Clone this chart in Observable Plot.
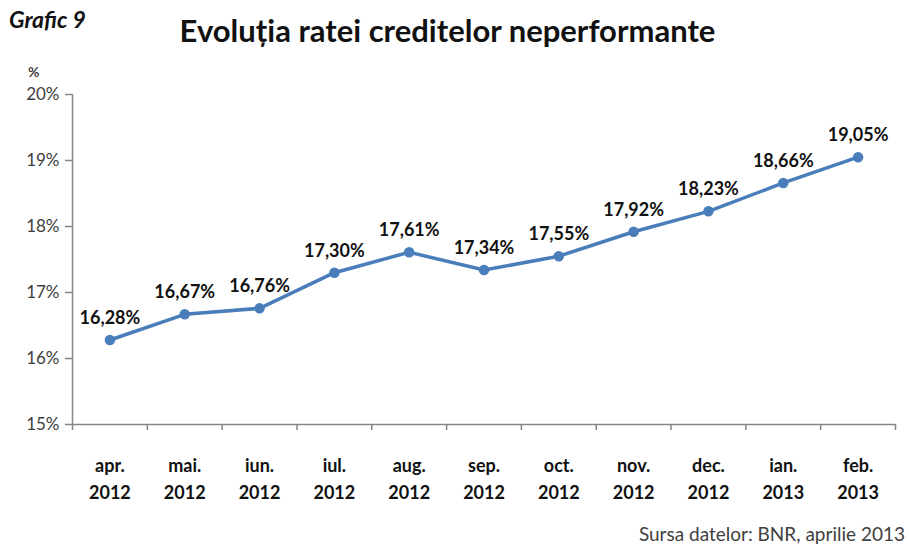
<!DOCTYPE html>
<html>
<head>
<meta charset="utf-8">
<script src="https://cdn.jsdelivr.net/npm/d3@7"></script>
<script src="https://cdn.jsdelivr.net/npm/@observablehq/plot@0.6"></script>
<style>
  html, body { margin: 0; padding: 0; background: #fff; }
  #wrap { position: relative; width: 909px; height: 547px; font-family: Lato, "Open Sans", sans-serif; }
  #grafic { position: absolute; left: 9px; top: 5px; font-size: 23px; font-weight: bold; font-style: italic; color: #111; }
  #title { position: absolute; left: 0; width: 895px; top: 11px; text-align: center; font-size: 31px; font-weight: bold; color: #111; }
  #pct { position: absolute; left: 28px; top: 63px; font-size: 14px; font-weight: bold; color: #404040; }
  #caption { position: absolute; right: 4px; top: 522px; font-size: 19px; color: #404040; }
  #chart { position: absolute; left: 0; top: 0; }
</style>
</head>
<body>
<div id="wrap">
  <div id="chart"></div>
  <div id="grafic">Grafic 9</div>
  <div id="title">Evoluția ratei creditelor neperformante</div>
  <div id="pct">%</div>
  <div id="caption">Sursa datelor: BNR, aprilie 2013</div>
</div>
<script>
const months = ["apr.", "mai.", "iun.", "iul.", "aug.", "sep.", "oct.", "nov.", "dec.", "ian.", "feb."];
const years = ["2012", "2012", "2012", "2012", "2012", "2012", "2012", "2012", "2012", "2013", "2013"];
const rates = [16.28, 16.67, 16.76, 17.30, 17.61, 17.34, 17.55, 17.92, 18.23, 18.66, 19.05];
const yTicks = [15, 16, 17, 18, 19, 20];

const data = months.map((m, i) => ({
  i, label: m + "\n" + years[i], rate: rates[i],
  value: rates[i].toFixed(2).replace(".", ",") + "%"
}));
const boundaries = data.map(d => d.i - 0.5).concat([data.length - 0.5]);
const blue = "#4a7ebb";
const grey = "#868686";

const chart = Plot.plot({
  width: 909,
  height: 547,
  marginLeft: 72,
  marginRight: 14,
  marginTop: 94,
  marginBottom: 123,
  style: { fontFamily: "Lato, 'Open Sans', sans-serif", background: "transparent" },
  x: { type: "linear", domain: [-0.5, data.length - 0.5], axis: null },
  y: { domain: [15, 20], axis: null },
  marks: [
    Plot.ruleY([15], { stroke: grey, strokeWidth: 1.5 }),
    Plot.ruleX([-0.5], { stroke: grey, strokeWidth: 1.5 }),
    Plot.axisY({ ticks: yTicks, label: null, tickSize: 7, tickPadding: 6, tickFormat: d => d + "%", stroke: grey, strokeWidth: 1.5, fill: "#404040", fontSize: 17 }),
    Plot.axisX({ ticks: boundaries, label: null, tickSize: 6, tickFormat: () => "", stroke: grey, strokeWidth: 1.5 }),
    Plot.text(data, { x: "i", y: () => 15, text: "label", lineAnchor: "top", dy: 28, lineHeight: 1.5, fontSize: 18, fontWeight: "bold", fill: "#111" }),
    Plot.line(data, { x: "i", y: "rate", stroke: blue, strokeWidth: 3.5 }),
    Plot.dot(data, { x: "i", y: "rate", r: 4.5, fill: blue, stroke: blue }),
    Plot.text(data, { x: "i", y: "rate", text: "value", lineAnchor: "bottom", dy: -16, fontSize: 18, fontWeight: "bold", fill: "#111" })
  ]
});
document.getElementById("chart").appendChild(chart);
</script>
</body>
</html>
